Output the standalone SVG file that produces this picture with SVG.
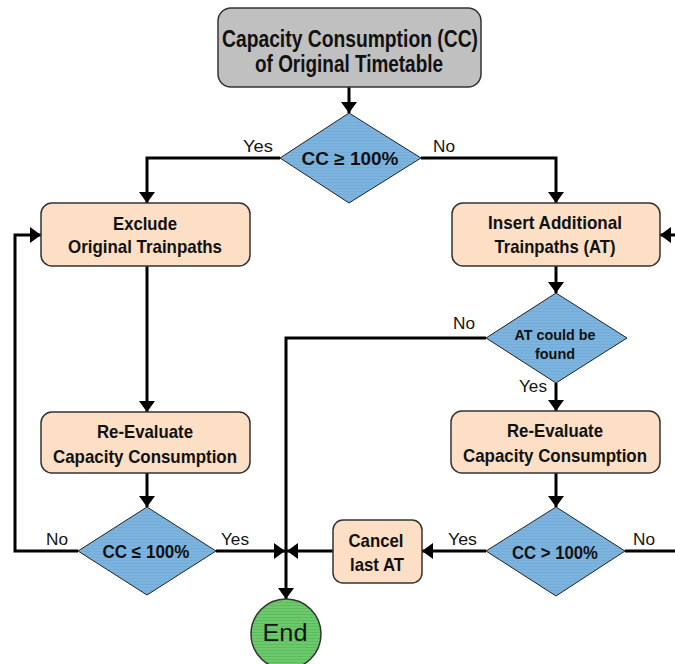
<svg xmlns="http://www.w3.org/2000/svg" width="675" height="664" viewBox="0 0 675 664">
  <defs>
    <marker id="arrow" viewBox="0 0 11 16" refX="11" refY="8" markerWidth="11" markerHeight="16" markerUnits="userSpaceOnUse" orient="auto">
      <path d="M0,0 L11,8 L0,16 Z" fill="#000"/>
    </marker>
    <pattern id="greenStripes" width="4" height="3" patternUnits="userSpaceOnUse">
      <rect width="4" height="3" fill="#6cc96c"/>
      <rect y="2" width="4" height="1" fill="#5cbc5c"/>
    </pattern>
    <pattern id="blueTexture" width="3" height="3" patternUnits="userSpaceOnUse">
      <rect width="3" height="3" fill="#7db4df"/>
      <rect y="2" width="3" height="1" fill="#74acd8"/>
    </pattern>
  </defs>
  <style>
    .box { fill: #fcdfc5; stroke: #333; stroke-width: 1.5; }
    .start { fill: #c0c0c0; stroke: #333; stroke-width: 1.5; }
    .dec { fill: url(#blueTexture); stroke: #222; stroke-width: 1; }
    .end { fill: url(#greenStripes); stroke: #333; stroke-width: 1.5; }
    .t { font-family: 'Liberation Sans Narrow', 'Arial Narrow', 'Liberation Sans', Arial, sans-serif; font-weight: bold; fill: #111; text-anchor: middle; }
    .lbl { font-family: 'Liberation Sans', Arial, sans-serif; font-size: 17px; fill: #151515; }
    .con path { fill: none; stroke: #000; stroke-width: 3; }
    .arr { marker-end: url(#arrow); }
  </style>

  <!-- connectors -->
  <g id="connectors" class="con">
    <path class="arr" d="M349,87 V113"/>
    <path class="arr" d="M280,158 H147 V203"/>
    <path class="arr" d="M421,158 H556 V203"/>
    <path class="arr" d="M147,266 V412"/>
    <path class="arr" d="M147,473 V507"/>
    <path class="arr" d="M78,551 H15 V235 H41"/>
    <path class="arr" d="M216,551 H285"/>
    <path class="arr" d="M556,266 V293"/>
    <path class="arr" d="M486,338 H286 V599"/>
    <path class="arr" d="M556,383 V411"/>
    <path class="arr" d="M556,473 V507"/>
    <path class="arr" d="M486,551 H422"/>
    <path class="arr" d="M333,551 H287"/>
    <path d="M625,551 H675"/>
    <path class="arr" d="M675,235 H660"/>
  </g>

  <!-- branch labels -->
  <g id="labels">
    <text class="lbl" x="243" y="152" textLength="30" lengthAdjust="spacingAndGlyphs">Yes</text>
    <text class="lbl" x="433" y="152" textLength="22" lengthAdjust="spacingAndGlyphs">No</text>
    <text class="lbl" x="453" y="329" textLength="22" lengthAdjust="spacingAndGlyphs">No</text>
    <text class="lbl" x="519" y="392" textLength="28" lengthAdjust="spacingAndGlyphs">Yes</text>
    <text class="lbl" x="46" y="545" textLength="22" lengthAdjust="spacingAndGlyphs">No</text>
    <text class="lbl" x="221" y="545" textLength="28" lengthAdjust="spacingAndGlyphs">Yes</text>
    <text class="lbl" x="448" y="545" textLength="29" lengthAdjust="spacingAndGlyphs">Yes</text>
    <text class="lbl" x="633" y="545" textLength="22" lengthAdjust="spacingAndGlyphs">No</text>
  </g>

  <g id="start">
    <rect class="start" x="218" y="8" width="263" height="79" rx="13"/>
    <text class="t" x="350" y="47" font-size="24" textLength="256" lengthAdjust="spacingAndGlyphs">Capacity Consumption (CC)</text>
    <text class="t" x="349" y="72" font-size="24" textLength="188" lengthAdjust="spacingAndGlyphs">of Original Timetable</text>
  </g>

  <g id="check-initial">
    <polygon class="dec" points="349,113 421,158 349,203 280,158"/>
    <text class="t" x="350" y="165" font-size="18" textLength="97" lengthAdjust="spacingAndGlyphs">CC ≥ 100%</text>
  </g>

  <g id="exclude">
    <rect class="box" x="41" y="203" width="209" height="63" rx="11"/>
    <text class="t" x="145" y="230" font-size="19" textLength="64" lengthAdjust="spacingAndGlyphs">Exclude</text>
    <text class="t" x="145" y="253" font-size="19" textLength="154" lengthAdjust="spacingAndGlyphs">Original Trainpaths</text>
  </g>

  <g id="insert">
    <rect class="box" x="452" y="203" width="208" height="63" rx="11"/>
    <text class="t" x="555" y="229" font-size="19" textLength="134" lengthAdjust="spacingAndGlyphs">Insert Additional</text>
    <text class="t" x="555" y="253" font-size="19" textLength="121" lengthAdjust="spacingAndGlyphs">Trainpaths (AT)</text>
  </g>

  <g id="check-found">
    <polygon class="dec" points="556,293 627,338 556,383 486,338"/>
    <text class="t" x="555" y="340" font-size="15" textLength="81" lengthAdjust="spacingAndGlyphs">AT could be</text>
    <text class="t" x="555" y="359" font-size="15" textLength="40" lengthAdjust="spacingAndGlyphs">found</text>
  </g>

  <g id="reevaluate-left">
    <rect class="box" x="41" y="412" width="209" height="61" rx="11"/>
    <text class="t" x="145" y="438" font-size="19" textLength="96" lengthAdjust="spacingAndGlyphs">Re-Evaluate</text>
    <text class="t" x="145" y="463" font-size="19" textLength="184" lengthAdjust="spacingAndGlyphs">Capacity Consumption</text>
  </g>

  <g id="reevaluate-right">
    <rect class="box" x="451" y="411" width="209" height="62" rx="11"/>
    <text class="t" x="555" y="437" font-size="19" textLength="96" lengthAdjust="spacingAndGlyphs">Re-Evaluate</text>
    <text class="t" x="555" y="462" font-size="19" textLength="184" lengthAdjust="spacingAndGlyphs">Capacity Consumption</text>
  </g>

  <g id="check-left">
    <polygon class="dec" points="147,507 216,551 147,595 78,551"/>
    <text class="t" x="146" y="558" font-size="18" textLength="87" lengthAdjust="spacingAndGlyphs">CC ≤ 100%</text>
  </g>

  <g id="check-right">
    <polygon class="dec" points="556,507 625,551 556,596 486,551"/>
    <text class="t" x="555" y="559" font-size="18" textLength="86" lengthAdjust="spacingAndGlyphs">CC &gt; 100%</text>
  </g>

  <g id="cancel">
    <rect class="box" x="333" y="520" width="89" height="63" rx="10"/>
    <text class="t" x="376" y="547" font-size="19" textLength="55" lengthAdjust="spacingAndGlyphs">Cancel</text>
    <text class="t" x="377" y="571" font-size="19" textLength="54" lengthAdjust="spacingAndGlyphs">last AT</text>
  </g>

  <g id="end">
    <circle class="end" cx="286" cy="634" r="35"/>
    <text x="285" y="641" font-family="'Liberation Sans', Arial, sans-serif" font-size="23" fill="#151515" text-anchor="middle" textLength="45" lengthAdjust="spacingAndGlyphs">End</text>
  </g>
</svg>
